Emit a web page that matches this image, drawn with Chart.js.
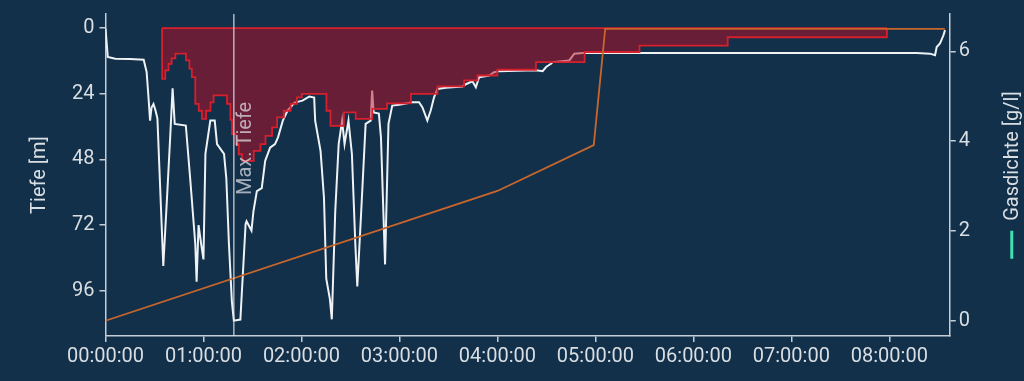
<!DOCTYPE html>
<html>
<head>
<meta charset="utf-8">
<script src="https://cdn.jsdelivr.net/npm/chart.js@4.4.1/dist/chart.umd.min.js"></script>
<style>
  html, body { margin: 0; padding: 0; background: #12304a; }
  canvas { display: block; }
</style>
</head>
<body>
<canvas id="diveChart" width="1024" height="381"></canvas>
<script>
// Tauchprofil (Zeit in Minuten)
var depthTime = [0, 1.4, 6, 15, 23.4, 25.2, 26.4, 27.3, 28.2, 29.4, 30.6, 31.8, 35.4, 37.6, 39.7, 41.1, 42.4, 49.2, 52, 55, 55.8, 57, 58.6, 60, 61.2, 64.2, 66.9, 68.3, 72.6, 74, 75.6, 77.4, 78.6, 82.6, 85.8, 86.4, 89.4, 90.6, 92.7, 95.7, 97.8, 100.8, 103.8, 105.6, 108.6, 111.6, 115.8, 120.6, 124.8, 127.8, 128.4, 131.7, 133.8, 135.2, 137.4, 138.6, 140.7, 142.8, 144.9, 146.4, 148.8, 150.9, 153, 154.2, 156.6, 159.3, 162.4, 163.3, 164.2, 167.4, 168.7, 171.2, 173.3, 175.6, 179.8, 187.9, 192, 194.1, 197.1, 199.2, 201.2, 203.3, 208.4, 218.6, 221, 224.7, 226.8, 228.8, 235, 238, 241.1, 263.6, 267.7, 269.8, 272.8, 273.8, 284, 287.1, 292.2, 400, 496.7, 504.9, 508, 509, 511, 513.1, 514.1];
var depthValues = [0, 10.5, 11.2, 11.3, 11.5, 16, 25.8, 33.8, 29, 27.7, 30, 33, 87, 63, 39, 22, 35, 35.6, 56, 79, 92.7, 72, 79, 84.6, 46, 33.8, 33.8, 42.4, 46, 55, 79, 100, 107, 106.6, 71.7, 70.6, 74, 67, 59.6, 58.5, 48.5, 43.7, 42.4, 40, 33.8, 30, 27.2, 26.5, 25, 25.4, 33.8, 44.9, 62, 91.6, 99, 106.5, 67, 42.4, 33.8, 42.4, 33.8, 46, 79, 94.5, 67, 35, 33.8, 22.8, 30.8, 31.2, 40, 86.4, 35, 28.3, 28, 27.1, 27.1, 29, 33.8, 30, 25.3, 22.2, 21.8, 21.3, 20.4, 19.4, 21.6, 17.9, 17.3, 16.1, 15.7, 15.4, 15.7, 14.2, 13, 12.4, 11.8, 9.3, 9.1, 9.1, 9.1, 9.3, 9.9, 6.9, 5.6, 2.6, 0.7];

// Deko-Decke
var ceilTime = [34.6, 34.7, 36.6, 38.6, 40.5, 42.8, 49.3, 51.4, 52.9, 55, 57.1, 59.1, 61.6, 64.3, 66.2, 74.4, 76.5, 77.5, 79.6, 81.6, 83.6, 90.8, 94.9, 98, 102, 105.1, 109.2, 113.4, 117.2, 120.2, 135.3, 137.8, 146, 153.2, 163.4, 172.4, 187, 203.3, 219.6, 227.8, 240, 263.6, 293.4, 327, 381, 478.5];
var ceilValues = [0, 18.5, 15.4, 13, 11, 9.3, 11.8, 14.8, 17.9, 27.7, 30.2, 33.2, 30.2, 27.1, 24.6, 27.7, 33.5, 38.7, 42.4, 46.1, 48.5, 44.9, 42.4, 39.4, 36.3, 32.6, 30.2, 27.7, 25.3, 24, 30.2, 35.7, 30.8, 33.2, 29.5, 27.5, 24, 21.3, 19.1, 17.3, 15.2, 12.4, 8.7, 6.4, 3.3, 0];

// Gasdichte
var gasTime = [0, 240, 299, 306, 514];
var gasValues = [0, 2.89, 3.91, 6.5, 6.5];

var depthTicks = [0, 24, 48, 72, 96];
var gasTicks = [0, 2, 4, 6];
var timeTicks = [0, 60, 120, 180, 240, 300, 360, 420, 480];

var axisColor = "#c5cdd6";
var textColor = "#d9dee3";
Chart.defaults.font.family = "Roboto";
Chart.defaults.font.size = 20;
Chart.defaults.color = textColor;

function pts(xs, ys) {
    return xs.map(function (x, i) { return { x: x, y: ys[i] }; });
}

function hms(m) {
    var h = Math.floor(m / 60);
    var mm = Math.round(m % 60);
    return String(h).padStart(2, "0") + ":" + String(mm).padStart(2, "0") + ":00";
}

// Index der max. Tiefe
var maxIdx = depthValues.indexOf(Math.max.apply(null, depthValues));

var extras = {
    id: "extras",
    afterDatasetsDraw: function (chart) {
        var ctx = chart.ctx;
        var area = chart.chartArea;
        var x = chart.scales.x.getPixelForValue(depthTime[maxIdx]);
        ctx.save();
        ctx.strokeStyle = "rgba(225,228,232,0.75)";
        ctx.lineWidth = 1.5;
        ctx.beginPath();
        ctx.moveTo(x, area.top);
        ctx.lineTo(x, area.bottom);
        ctx.stroke();
        ctx.translate(x + 2, area.top + 181);
        ctx.rotate(-Math.PI / 2);
        ctx.fillStyle = "rgba(230,230,235,0.7)";
        ctx.font = "20px Roboto";
        ctx.textAlign = "left";
        ctx.textBaseline = "top";
        ctx.fillText("Max. Tiefe", 0, 0);
        ctx.restore();
    },
    afterDraw: function (chart) {
        var ctx = chart.ctx;
        var area = chart.chartArea;
        var label = "Gasdichte [g/l]";
        ctx.save();
        ctx.font = "20px Roboto";
        var w = ctx.measureText(label).width;
        var total = 28 + 10 + w;
        var cy = (area.top + area.bottom) / 2;
        ctx.translate(area.right + 62, cy + total / 2);
        ctx.rotate(-Math.PI / 2);
        ctx.strokeStyle = "#3fe0b4";
        ctx.lineWidth = 3;
        ctx.beginPath();
        ctx.moveTo(0, 0);
        ctx.lineTo(28, 0);
        ctx.stroke();
        ctx.fillStyle = textColor;
        ctx.textAlign = "left";
        ctx.textBaseline = "middle";
        ctx.fillText(label, 38, 1);
        ctx.restore();
    }
};

new Chart("diveChart", {
    type: "line",
    data: {
        datasets: [
            {
                label: "Gasdichte",
                data: pts(gasTime, gasValues),
                yAxisID: "y1",
                borderColor: "#c8662c",
                borderWidth: 1.8,
                pointRadius: 0,
                fill: false,
                order: 1,
            },
            {
                label: "Decke oben",
                data: pts([ceilTime[0], ceilTime[ceilTime.length - 1]], [0, 0]),
                yAxisID: "y",
                borderColor: "#d81f2c",
                borderWidth: 1.8,
                pointRadius: 0,
                fill: false,
                order: 2,
            },
            {
                label: "Deko-Decke",
                data: pts(ceilTime, ceilValues),
                yAxisID: "y",
                stepped: "before",
                borderColor: "#d81f2c",
                borderWidth: 1.8,
                backgroundColor: "rgba(190,12,35,0.5)",
                pointRadius: 0,
                fill: { value: 0 },
                order: 3,
            },
            {
                label: "Tiefe",
                data: pts(depthTime, depthValues),
                yAxisID: "y",
                borderColor: "#eef2f5",
                borderWidth: 2,
                pointRadius: 0,
                fill: false,
                order: 4,
            },
        ],
    },
    options: {
        responsive: false,
        animation: false,
        devicePixelRatio: 1,
        layout: {
            padding: { left: 0, right: 51, top: 14, bottom: 9 },
        },
        plugins: {
            legend: { display: false },
            tooltip: { enabled: false },
        },
        scales: {
            x: {
                type: "linear",
                min: 0,
                max: 517,
                afterBuildTicks: function (axis) {
                    axis.ticks = timeTicks.map(function (v) { return { value: v }; });
                },
                ticks: {
                    padding: 3,
                    maxRotation: 0,
                    autoSkip: false,
                    callback: function (v) { return hms(v); },
                },
                grid: { drawOnChartArea: false, tickLength: 6, color: axisColor, lineWidth: 1.5 },
                border: { color: axisColor, width: 1.5 },
            },
            y: {
                position: "left",
                reverse: true,
                min: -5.2,
                max: 112.6,
                afterBuildTicks: function (axis) {
                    axis.ticks = depthTicks.map(function (v) { return { value: v }; });
                },
                ticks: { padding: 5, font: { lineHeight: 0.9 } },
                title: {
                    display: true,
                    text: "Tiefe [m]",
                    padding: { top: 28, bottom: 15 },
                },
                grid: { drawOnChartArea: false, tickLength: 6, color: axisColor, lineWidth: 1.5 },
                border: { color: axisColor, width: 1.5 },
            },
            y1: {
                position: "right",
                min: -0.34,
                max: 6.83,
                afterBuildTicks: function (axis) {
                    axis.ticks = gasTicks.map(function (v) { return { value: v }; });
                },
                ticks: { padding: 3, font: { lineHeight: 0.9 } },
                grid: { drawOnChartArea: false, tickLength: 6, color: axisColor, lineWidth: 1.5 },
                border: { color: axisColor, width: 1.5 },
            },
        },
    },
    plugins: [extras],
});
</script>
</body>
</html>
